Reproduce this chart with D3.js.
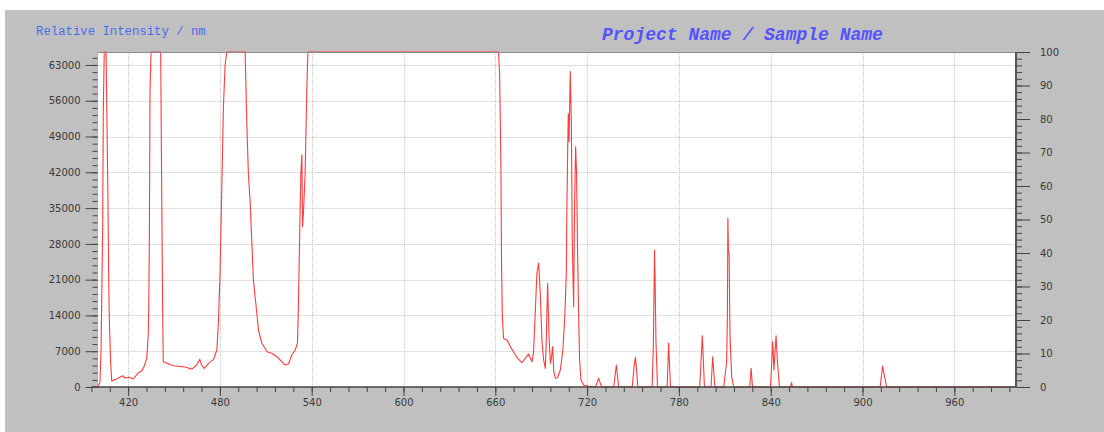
<!DOCTYPE html>
<html>
<head>
<meta charset="utf-8">
<script src="https://cdn.jsdelivr.net/npm/d3@7"></script>
<style>
  html, body { margin: 0; padding: 0; background: #ffffff; }
  svg { display: block; }
  .tick text { font-family: "DejaVu Sans", sans-serif; font-size: 10px; fill: #3a3a3a; }
  .tick line { stroke: #444; }
</style>
</head>
<body>
<svg id="chart" width="1104" height="432"></svg>
<script>
// Spectrum: wavelength (nm) and detector counts (saturates at 65535)
const wavelength = [
  400.5, 401.6, 402.3, 402.7, 403.4, 403.8, 404.4, 405.6, 406.0, 406.7, 407.3, 407.7, 408.6, 409.3,
  412.5, 416.5, 418.0, 420.8, 423.4, 426.7, 428.9, 430.4, 432.2, 433.2, 433.5, 433.9, 434.3, 435.0,
  441.3, 442.0, 442.6, 443.0, 449.5, 458.3, 460.5, 462.0, 464.8, 466.9, 468.0, 469.8, 472.6, 475.9,
  478.0, 479.0, 480.1, 481.2, 482.3, 483.4, 484.5, 496.5, 497.6, 498.6, 499.7, 500.8, 501.9, 503.7,
  505.2, 507.4, 509.5, 510.7, 513.9, 517.2, 519.4, 522.6, 524.8, 527.0, 529.2, 530.7, 531.3, 532.0,
  532.9, 533.6, 534.0, 534.6, 535.7, 536.8, 537.5, 662.1, 662.8, 663.2, 663.7, 664.1, 664.6, 665.4,
  667.6, 669.8, 671.9, 674.6, 677.4, 679.6, 681.7, 684.0, 685.0, 686.1, 687.2, 688.3, 689.4, 690.5,
  691.6, 692.7, 693.3, 694.2, 695.1, 696.0, 696.6, 697.5, 698.2, 699.3, 700.7, 702.5, 704.2, 705.5,
  706.4, 706.8, 707.3, 707.7, 708.2, 708.6, 709.0, 709.7, 710.3, 711.2, 711.8, 712.5, 713.1, 713.8,
  714.5, 715.1, 716.0, 717.7, 721.0, 725.5, 727.5, 729.5, 737.4, 739.1, 740.6, 749.5, 750.8, 751.6,
  753.2, 762.5, 763.3, 763.8, 764.1, 764.5, 765.0, 766.0, 772.3, 773.3, 774.5, 793.6, 794.8, 795.3,
  796.7, 801.0, 802.1, 803.5, 809.3, 811.2, 811.7, 812.0, 812.4, 812.8, 813.4, 814.5, 815.8, 826.3,
  827.2, 828.1, 839.9, 841.3, 842.1, 843.5, 844.4, 845.7, 853.0, 853.6, 854.2, 911.5, 913.2, 913.8,
  915.8, 1000.0
];
const intensity = [
  0, 1000, 7200, 15700, 32000, 54000, 65535, 65535, 56000, 40000, 22000, 13500, 4700, 1200,
  1560, 2200, 1760, 1900, 1560, 2800, 3130, 3970, 5600, 10500, 15700, 28750, 57500, 65535,
  65535, 36600, 14500, 4950, 4170, 3850, 3520, 3600, 4300, 5400, 4300, 3650, 4630, 5400,
  7240, 12500, 22300, 38500, 54800, 63000, 65535, 65535, 51600, 41800, 36600, 28750, 20900, 15700,
  11150, 8550, 7570, 6900, 6600, 5930, 5280, 4300, 4500, 6260, 7240, 8550, 15700, 27400,
  41800, 45400, 31350, 34000, 41800, 58100, 65535, 65535, 61360, 53600, 41860, 23500, 13750, 9500,
  9200, 7900, 6900, 5600, 4750, 5600, 6450, 4950, 6800, 14500, 22300, 24250, 18400, 9000,
  5300, 3650, 9000, 20300, 10000, 4630, 5500, 7900, 3000, 1700, 1800, 3330, 7240, 14400,
  22250, 35000, 46360, 53500, 48000, 54800, 61700, 52000, 28750, 15700, 35000, 47000, 42000, 26000,
  13750, 5280, 1370, 400, 150, 0, 1700, 0, 0, 4300, 0, 0, 4300, 5800,
  0, 0, 8000, 20000, 26800, 20000, 9000, 0, 0, 8550, 0, 0, 7000, 10000,
  0, 0, 5930, 0, 0, 5000, 14000, 33000, 26500, 26000, 10000, 2000, 0, 0,
  3650, 0, 0, 8870, 3330, 10000, 5000, 0, 0, 850, 0, 0, 4100, 3000,
  0, 0
];

// Axis ticks
const xMajorTicks = [420, 480, 540, 600, 660, 720, 780, 840, 900, 960];
const xMinorTicks = d3.range(396, 997, 12);
const yMajorTicks = [0, 7000, 14000, 21000, 28000, 35000, 42000, 49000, 56000, 63000];
const yMinorTicks = d3.range(0, 65535, 1400);
const pctMajorTicks = [0, 10, 20, 30, 40, 50, 60, 70, 80, 90, 100];
const pctMinorTicks = d3.range(0, 101, 2);

const yLabel = "Relative Intensity / nm";
const title = "Project Name / Sample Name";

const svg = d3.select("#chart");

const x = d3.scaleLinear().domain([400, 1000]).range([97.5, 1015.5]);
const y = d3.scaleLinear().domain([0, 65535]).range([387, 52]);
const yPct = d3.scaleLinear().domain([0, 100]).range([387, 52]);

// Grey panel
svg.append("rect").attr("x", 5).attr("y", 10).attr("width", 1099).attr("height", 422).attr("fill", "#c0c0c0");

// Plot area
svg.append("rect")
  .attr("x", x(400)).attr("y", y(65535))
  .attr("width", x(1000) - x(400)).attr("height", y(0) - y(65535))
  .attr("fill", "#ffffff");

// Dotted grid
const grid = svg.append("g").attr("stroke", "#c2c2c2").attr("stroke-width", 1).attr("stroke-dasharray", "1,1");
grid.selectAll("line.v").data(xMajorTicks).join("line")
  .attr("class", "v")
  .attr("x1", d => Math.round(x(d)) + 0.5).attr("x2", d => Math.round(x(d)) + 0.5)
  .attr("y1", y(65535)).attr("y2", y(0));
grid.selectAll("line.h").data(yMajorTicks.filter(d => d > 0)).join("line")
  .attr("class", "h")
  .attr("y1", d => Math.round(y(d)) + 0.5).attr("y2", d => Math.round(y(d)) + 0.5)
  .attr("x1", x(400)).attr("x2", x(1000));

// Spectrum trace
const points = wavelength.map((w, i) => [w, intensity[i]]);
const line = d3.line().x(d => x(d[0])).y(d => y(d[1]));
svg.append("path")
  .datum(points)
  .attr("d", line)
  .attr("fill", "none")
  .attr("stroke", "#ff3c3c")
  .attr("stroke-width", 1.1)
  .attr("stroke-linejoin", "round");

// Frame edges
svg.append("line").attr("x1", x(400)).attr("x2", x(1000)).attr("y1", 52.5).attr("y2", 52.5)
  .attr("stroke", "#8a8a8a").attr("stroke-width", 1);
svg.append("line").attr("x1", 97.5).attr("x2", 97.5).attr("y1", 52).attr("y2", 387)
  .attr("stroke", "#b0b0b0").attr("stroke-width", 1);

// Left axis (counts)
const leftMinor = svg.append("g").attr("transform", "translate(97.5,0)")
  .call(d3.axisLeft(y).tickValues(yMinorTicks).tickSize(5).tickFormat(""));
leftMinor.select(".domain").remove();
const leftMajor = svg.append("g").attr("transform", "translate(97.5,0)")
  .call(d3.axisLeft(y).tickValues(yMajorTicks).tickSize(12).tickPadding(5).tickFormat(d3.format("d")));
leftMajor.select(".domain").remove();

// Bottom axis (wavelength)
const bottomMinor = svg.append("g").attr("transform", "translate(0,387)")
  .call(d3.axisBottom(x).tickValues(xMinorTicks).tickSize(5).tickFormat(""));
bottomMinor.select(".domain").remove();
const bottomMajor = svg.append("g").attr("transform", "translate(0,387)")
  .call(d3.axisBottom(x).tickValues(xMajorTicks).tickSize(9).tickPadding(3).tickFormat(d3.format("d")));
bottomMajor.select(".domain").remove();
svg.append("line").attr("x1", x(396)).attr("x2", 1017).attr("y1", 387).attr("y2", 387)
  .attr("stroke", "#444").attr("stroke-width", 1.5);

// Right axis (percent)
const rightMinor = svg.append("g").attr("transform", "translate(1016,0)")
  .call(d3.axisRight(yPct).tickValues(pctMinorTicks).tickSize(6).tickFormat(""));
rightMinor.select(".domain").remove();
const rightMajor = svg.append("g").attr("transform", "translate(1016,0)")
  .call(d3.axisRight(yPct).tickValues(pctMajorTicks).tickSize(14).tickPadding(10).tickFormat(d3.format("d")));
rightMajor.select(".domain").remove();
svg.append("line").attr("x1", 1016).attr("x2", 1016).attr("y1", 52).attr("y2", 388)
  .attr("stroke", "#555").attr("stroke-width", 2);

svg.selectAll(".tick line").attr("stroke", "#444");

// Headings
svg.append("text")
  .attr("x", 36).attr("y", 35)
  .attr("font-family", "'Liberation Mono', monospace")
  .attr("font-size", 12.3)
  .attr("fill", "#4a6cf2")
  .text(yLabel);

svg.append("text")
  .attr("x", 602).attr("y", 40)
  .attr("font-family", "'Liberation Mono', monospace")
  .attr("font-size", 18)
  .attr("font-weight", "bold")
  .attr("font-style", "italic")
  .attr("fill", "#5454ff")
  .text(title);
</script>
</body>
</html>
